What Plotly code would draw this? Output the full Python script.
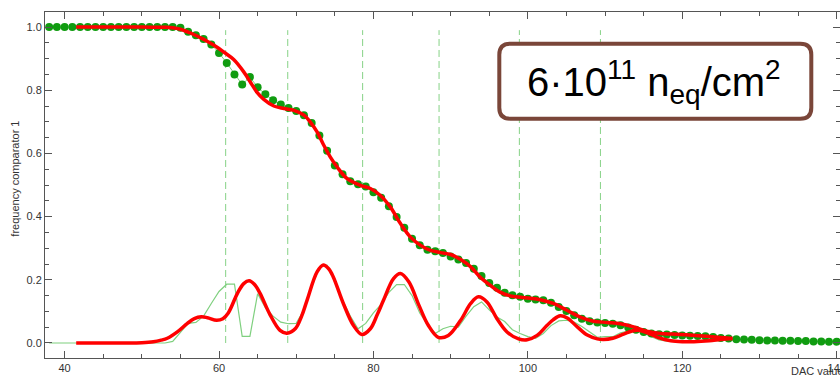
import plotly.graph_objects as go

# ---------------- data ----------------
dac = list(range(38, 141))
freq = ([1.0] * 17 +
        [0.998, 0.985, 0.974, 0.962, 0.945, 0.918, 0.886, 0.850, 0.818, 0.842,
         0.809, 0.787, 0.768, 0.755, 0.744, 0.734, 0.721, 0.696, 0.657, 0.608,
         0.562, 0.534, 0.512, 0.502, 0.495, 0.477, 0.460, 0.433, 0.399, 0.365,
         0.330, 0.309, 0.295, 0.290, 0.285, 0.274, 0.264, 0.253, 0.235, 0.212,
         0.190, 0.175, 0.159, 0.151, 0.146, 0.140, 0.138, 0.135, 0.127, 0.114,
         0.101, 0.088, 0.077, 0.069, 0.065, 0.063, 0.061, 0.056, 0.049, 0.042,
         0.035, 0.030, 0.028, 0.027, 0.025, 0.024, 0.023, 0.022, 0.021, 0.019,
         0.016, 0.014, 0.012, 0.011, 0.010, 0.009, 0.008, 0.008, 0.007, 0.007,
         0.006, 0.006, 0.005, 0.005, 0.004, 0.004])

deriv_x = list(range(38, 128))
deriv_y = ([0.0] * 16 +
           [0.005, 0.035, 0.062, 0.065, 0.085, 0.125, 0.163, 0.186, 0.186, 0.021,
            0.021, 0.156, 0.112, 0.085, 0.066, 0.061, 0.062, 0.105, 0.178, 0.240,
            0.246, 0.200, 0.135, 0.085, 0.045, 0.062, 0.095, 0.122, 0.160, 0.185,
            0.185, 0.150, 0.095, 0.058, 0.030, 0.045, 0.053, 0.050, 0.085, 0.115,
            0.130, 0.105, 0.082, 0.068, 0.042, 0.030, 0.020, 0.015, 0.030, 0.055,
            0.070, 0.072, 0.066, 0.052, 0.034, 0.018, 0.020, 0.020, 0.032, 0.038,
            0.038, 0.032, 0.020, 0.010, 0.006, 0.005, 0.004, 0.004, 0.005, 0.006,
            0.008, 0.009, 0.010, 0.010])

fit_x = [41.5, 45, 50, 52, 53, 54, 55, 56.3, 57.6, 58.4, 59.7, 60.6, 61.9, 63.2,
         64.05, 64.9, 65.8, 67.1, 68.4, 69.7, 71, 71.8, 72.7, 73.5, 74.4, 75.3,
         76.6, 78.3, 79.6, 80.9, 82.2, 83.5, 84.8, 86.1, 87.4, 88.7, 90.0, 91.3,
         92.6, 93.8, 95.1, 96.4, 97.7, 99.3, 101.6, 103.3, 105.1, 106.8, 108.5,
         110.3, 112.0, 113.7, 115.4, 117.2, 119.8, 123.2, 126.5]
fit_y = [1.0, 1.0, 1.0, 0.999, 0.999, 0.998, 0.993, 0.981, 0.966, 0.956, 0.937,
         0.921, 0.897, 0.858, 0.826, 0.794, 0.771, 0.750, 0.742, 0.736, 0.721,
         0.700, 0.668, 0.629, 0.589, 0.557, 0.520, 0.499, 0.489, 0.467, 0.430,
         0.378, 0.335, 0.309, 0.293, 0.286, 0.280, 0.264, 0.241, 0.209, 0.183,
         0.161, 0.149, 0.144, 0.137, 0.125, 0.103, 0.082, 0.069, 0.065, 0.061,
         0.051, 0.037, 0.030, 0.027, 0.021, 0.014]

gfit_x = [41.5, 48, 50, 51.5, 52.5, 53.3, 54.6, 55.9, 56.8, 57.7, 58.5, 59.7,
          60.5, 61.2, 62.4, 63.2, 63.9, 64.6, 65.3, 66.6, 67.9, 68.8, 69.9, 70.7,
          71.4, 72.7, 73.5, 74.2, 74.8, 76.1, 77.4, 78.5, 79.6, 80.5, 81.3, 82.6,
          83.5, 84.6, 85.9, 87.1, 88.4, 89.7, 91.3, 92.6, 93.6, 94.7, 96.0, 97.3,
          98.8, 99.9, 101.2, 102.5, 103.3, 104.2, 105.1, 106.4, 107.7, 109.0,
          109.8, 111.0, 112.4, 113.5, 114.3, 115.5, 117.0, 118.5, 120.0, 121.5,
          123.5, 125.0, 126.5]
gfit_y = [0.0, 0.0, 0.001, 0.004, 0.009, 0.015, 0.035, 0.062, 0.077, 0.083, 0.080,
          0.072, 0.077, 0.095, 0.158, 0.188, 0.197, 0.185, 0.158, 0.090, 0.040,
          0.031, 0.046, 0.085, 0.135, 0.225, 0.247, 0.235, 0.209, 0.125, 0.056,
          0.027, 0.045, 0.090, 0.135, 0.204, 0.220, 0.193, 0.119, 0.056, 0.018,
          0.024, 0.072, 0.125, 0.146, 0.130, 0.077, 0.035, 0.013, 0.010, 0.024,
          0.056, 0.074, 0.086, 0.079, 0.051, 0.025, 0.013, 0.011, 0.015, 0.028,
          0.038, 0.040, 0.032, 0.016, 0.007, 0.004, 0.004, 0.007, 0.011, 0.014]

marker_lines = [60.86, 68.9, 78.6, 88.5, 98.9, 109.4]

x_ticks = [40, 60, 80, 100, 120, 140]
y_ticks = [0.0, 0.2, 0.4, 0.6, 0.8, 1.0]

# ---------------- figure ----------------
W, H = 840, 375
L, R, T, B = 45, 0, 12, 17
pw, ph = W - L - R, H - T - B

def px2paper(px, py):
    return (px - L) / pw, (H - B - py) / ph

fig = go.Figure()

fig.add_trace(go.Scatter(x=deriv_x, y=deriv_y, mode="lines",
                         line=dict(color="#7fd07f", width=1.2), hoverinfo="skip"))
fig.add_trace(go.Scatter(x=dac, y=freq, mode="lines+markers",
                         line=dict(color="#7fd07f", width=1),
                         marker=dict(color="#109c10", size=8, line=dict(width=0))))
fig.add_trace(go.Scatter(x=gfit_x, y=gfit_y, mode="lines", line_shape="spline",
                         line=dict(color="#ff0000", width=3.5)))
fig.add_trace(go.Scatter(x=fit_x, y=fit_y, mode="lines", line_shape="spline",
                         line=dict(color="#ff0000", width=3.5)))

shapes = []
for xv in marker_lines:
    shapes.append(dict(type="line", xref="x", yref="y", x0=xv, x1=xv, y0=0.0, y1=0.99,
                       line=dict(color="#86d286", width=1, dash="7px,4px"), layer="below"))

# rounded box
bx0, bx1, by0, by1, rr = 499.3, 811.3, 43.7, 118.7, 11
def P(px, py):
    x, y = px2paper(px, py)
    return f"{x:.5f},{y:.5f}"
path = (f"M {P(bx0+rr, by0)} L {P(bx1-rr, by0)} Q {P(bx1, by0)} {P(bx1, by0+rr)} "
        f"L {P(bx1, by1-rr)} Q {P(bx1, by1)} {P(bx1-rr, by1)} "
        f"L {P(bx0+rr, by1)} Q {P(bx0, by1)} {P(bx0, by1-rr)} "
        f"L {P(bx0, by0+rr)} Q {P(bx0, by0)} {P(bx0+rr, by0)} Z")
shapes.append(dict(type="path", xref="paper", yref="paper", path=path,
                   line=dict(color="#7a4639", width=4), fillcolor="white", layer="above"))

tx, ty = px2paper(654, 82)
yl_x, _ = px2paper(15, 0)
dac_x, dac_y = px2paper(789, 370.7)

annotations = [
    dict(xref="paper", yref="paper", x=tx, y=ty, xanchor="center", yanchor="middle",
         text="6·10<sup>11</sup> n<sub>eq</sub>/cm<sup>2</sup>", showarrow=False,
         font=dict(family="Liberation Sans, Arial", size=40, color="black")),
    dict(xref="paper", yref="y", x=yl_x, y=0.52, xanchor="center", yanchor="middle",
         text="frequency comparator 1", textangle=-90, showarrow=False,
         font=dict(family="Liberation Sans, Arial", size=11, color="#333")),
    dict(xref="paper", yref="paper", x=dac_x, y=dac_y, xanchor="left", yanchor="middle",
         text="DAC value", showarrow=False,
         font=dict(family="Liberation Sans, Arial", size=11, color="#333")),
]

axis_common = dict(showgrid=False, zeroline=False, showline=True, linecolor="#555",
                   linewidth=1, ticks="inside", tickcolor="#555", ticklen=7,
                   mirror="allticks", automargin=False, ticklabeloverflow="allow",
                   tickfont=dict(family="Liberation Sans, Arial", size=11, color="#333"))

fig.update_layout(
    width=W, height=H, margin=dict(l=L, r=R, t=T, b=B, autoexpand=False),
    paper_bgcolor="white", plot_bgcolor="white", showlegend=False,
    shapes=shapes, annotations=annotations,
    xaxis=dict(range=[37.46, 140.43], tickvals=x_ticks,
               minor=dict(dtick=5, tick0=0, ticks="inside", ticklen=4, tickcolor="#555"),
               **axis_common),
    yaxis=dict(range=[-0.0475, 1.0475], tickvals=y_ticks, tickformat=".1f",
               minor=dict(dtick=0.05, tick0=0, ticks="inside", ticklen=4, tickcolor="#555"),
               **axis_common),
)

fig.write_html("out.html", config={"displayModeBar": False},
               post_script="document.body.style.margin='0';document.body.style.padding='0';"
                           "document.body.style.overflow='hidden';")
